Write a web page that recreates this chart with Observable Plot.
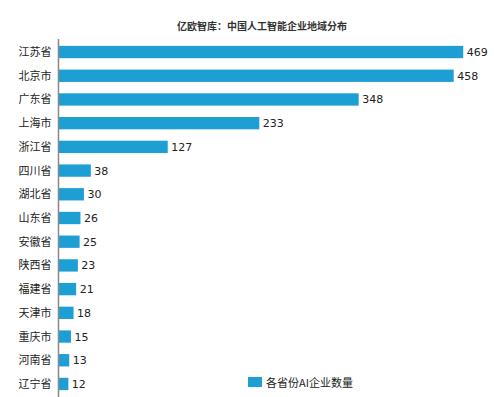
<!DOCTYPE html>
<html><head><meta charset="utf-8">
<script src="https://cdn.jsdelivr.net/npm/d3@7"></script>
<script src="https://cdn.jsdelivr.net/npm/@observablehq/plot@0.6"></script>
<style>
body{margin:0;background:#fff;}
#wrap{position:relative;width:494px;height:397px;font-family:"Noto Sans CJK SC","DejaVu Sans",sans-serif;}
#title{position:absolute;left:0;width:524px;top:18px;text-align:center;font-size:10px;font-weight:bold;color:#333;}
#legend{position:absolute;left:248px;top:374px;font-size:11px;color:#222;display:flex;align-items:center;}
#legend span.sw{display:inline-block;width:14px;height:10px;background:#1e9fd4;margin-right:4px;}
</style></head>
<body><div id="wrap"><div id="chart"></div>
<div id="title">亿欧智库：中国人工智能企业地域分布</div>
<div id="legend"><span class="sw"></span>各省份AI企业数量</div></div>
<script>
const provinces = ["江苏省","北京市","广东省","上海市","浙江省","四川省","湖北省","山东省","安徽省","陕西省","福建省","天津市","重庆市","河南省","辽宁省"];
const counts = [469,458,348,233,127,38,30,26,25,23,21,18,15,13,12];
const data = provinces.map((p,i)=>({province:p,count:counts[i]}));
const chart = Plot.plot({
  width:494, height:397,
  marginLeft:58, marginRight:4, marginTop:39, marginBottom:0,
  style:{fontFamily:"'Noto Sans CJK SC','DejaVu Sans',sans-serif", fontSize:"11px", color:"#222", background:"#fff"},
  x:{domain:[0,500], axis:null},
  y:{domain:provinces, padding:0.48, round:false, range:[34.5,401.5], label:null, tickSize:0, tickPadding:7},
  marks:[
    Plot.barX(data,{y:"province",x:"count",fill:"#1e9fd4"}),
    Plot.text(data,{y:"province",x:"count",text:d=>String(d.count),textAnchor:"start",dx:3,fill:"#222",fontSize:11,fontFamily:"DejaVu Sans"}),
    Plot.ruleX([0],{stroke:"#888",strokeWidth:1.5})
  ]
});
document.getElementById("chart").appendChild(chart);
</script></body></html>
